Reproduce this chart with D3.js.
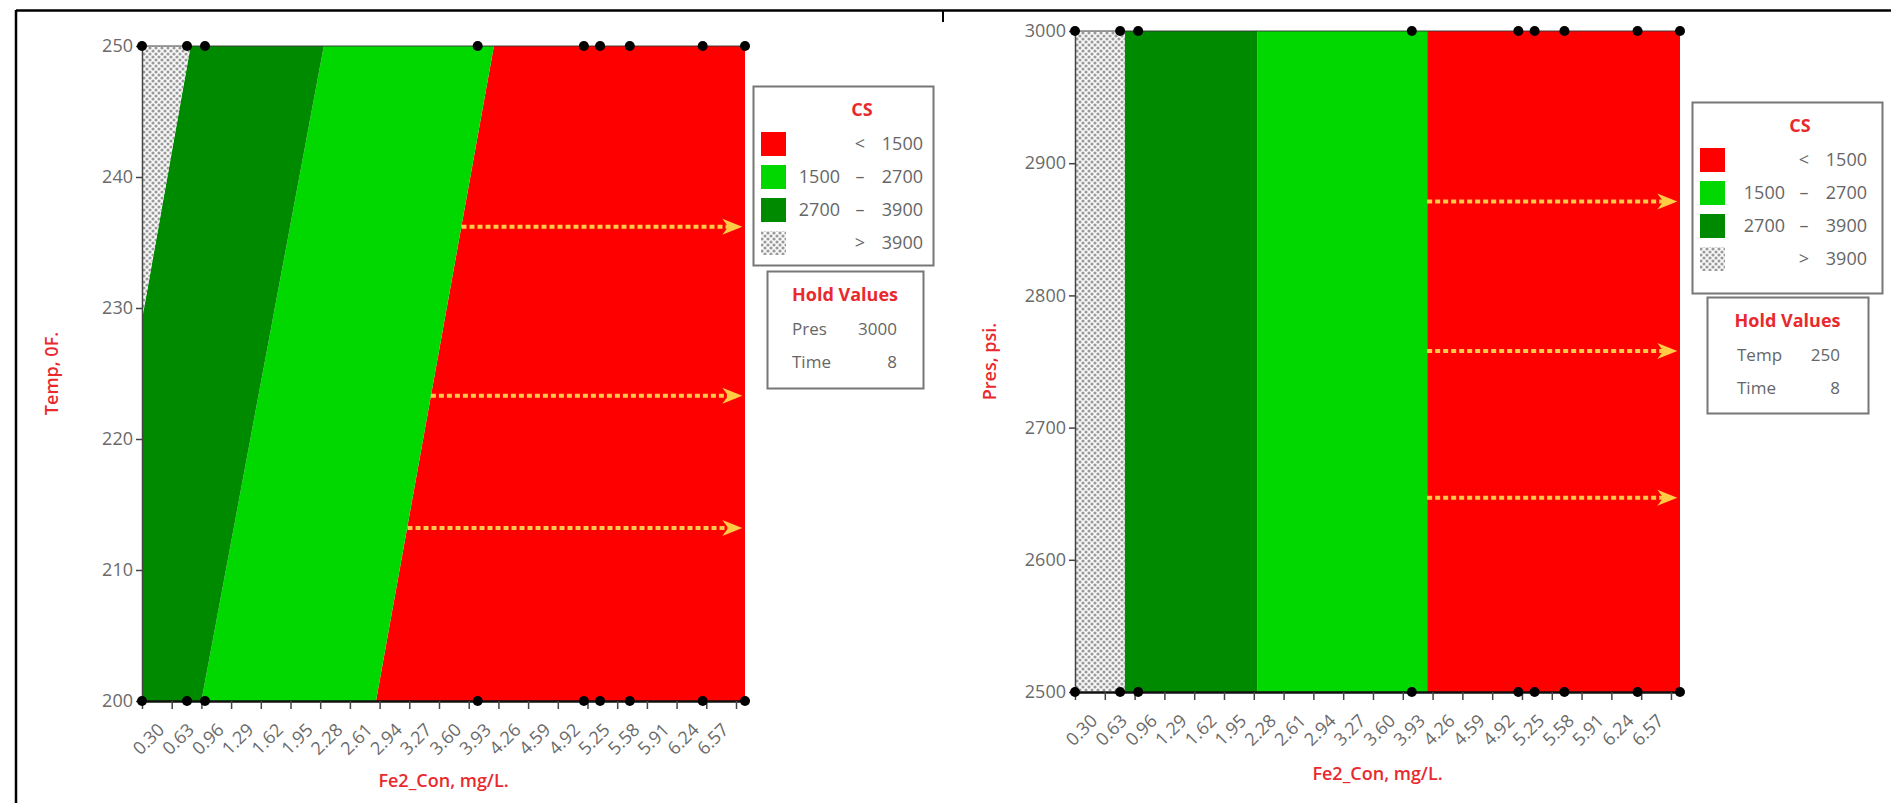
<!DOCTYPE html>
<html><head><meta charset="utf-8">
<script src="https://cdn.jsdelivr.net/npm/d3@7"></script>
<style>body{margin:0;background:#fff;} svg{display:block;font-family:"Open Sans",sans-serif;}</style>
</head><body><svg id="c" width="1891" height="803"></svg>
<script>
// ---------- data ----------
const feDomain = [0.30, 7.00];
const feTickValues = [0.30,0.63,0.96,1.29,1.62,1.95,2.28,2.61,2.94,3.27,3.60,3.93,4.26,4.59,4.92,5.25,5.58,5.91,6.24,6.57,6.90];
const feTickLabels = ["0.30","0.63","0.96","1.29","1.62","1.95","2.28","2.61","2.94","3.27","3.60","3.93","4.26","4.59","4.92","5.25","5.58","5.91","6.24","6.57",""];
const tempTicks = [200,210,220,230,240,250];
const presTicks = [2500,2600,2700,2800,2900,3000];
const designFe = [0.30,0.80,1.00,4.03,5.21,5.39,5.72,6.53,7.00];
// left panel contour lines (Fe2_Con, Temp)
const contour3900 = [[0.84,250],[0.30,229.1]];
const contour2700 = [[2.32,250],[0.96,200]];
const contour1500 = [[4.21,250],[2.90,200]];
// right panel contour positions (Fe2_Con), vertical
const bandEdges = [0.85, 2.32, 4.20];
// legend
const legendLo  = ["", "1500", "2700", ""];
const legendSym = ["<", "\u2013", "\u2013", ">"];
const legendHi  = ["1500", "2700", "3900", "3900"];
const legendFill = ["#ff0000", "#00d800", "#008a00", "hatch"];
// arrows
const leftArrowTemp = [236.2, 223.3, 213.2];
const leftArrowFrom = [3.85, 3.51, 3.25];
const rightArrowPres = [2871, 2758, 2647];
const rightArrowFrom = [4.20, 4.20, 4.20];
const arrowTo = 6.97;
// hold values
const leftHoldNames = ["Pres","Time"], leftHoldVals = ["3000","8"];
const rightHoldNames = ["Temp","Time"], rightHoldVals = ["250","8"];

// ---------- drawing ----------
const svg = d3.select("#c");
const defs = svg.append("defs");
const pat = defs.append("pattern").attr("id","hatch").attr("patternUnits","userSpaceOnUse")
  .attr("width",6).attr("height",6);
pat.append("rect").attr("width",6).attr("height",6).attr("fill","#fafafa");
[[0,0],[6,0],[0,6],[6,6],[3,3]].forEach(([cx,cy])=>
  pat.append("circle").attr("cx",cx).attr("cy",cy).attr("r",1.6).attr("fill","#9a9a9a"));
const RED="#ff0000", LG="#00d800", DG="#008a00";
const fillOf = f => f==="hatch" ? "url(#hatch)" : f;

// frame
svg.append("line").attr("x1",16).attr("x2",1891).attr("y1",10.5).attr("y2",10.5).attr("stroke","#000").attr("stroke-width",2.5);
svg.append("line").attr("x1",16).attr("x2",16).attr("y1",10).attr("y2",803).attr("stroke","#000").attr("stroke-width",2.5);
svg.append("line").attr("x1",943).attr("x2",943).attr("y1",10).attr("y2",22).attr("stroke","#000").attr("stroke-width",2);

function panel(cfg){
  const x = d3.scaleLinear().domain(feDomain).range(cfg.xr);
  const y = d3.scaleLinear().domain(cfg.yd).range(cfg.yr);
  const g = svg.append("g");
  const line = d3.line().x(d=>x(d[0])).y(d=>y(d[1]));
  cfg.polys.forEach(p => g.append("path").attr("d", line(p.pts)+"Z").attr("fill", fillOf(p.fill)));

  // top edge line
  g.append("line").attr("x1",cfg.xr[0]).attr("x2",cfg.xr[1]).attr("y1",y(cfg.yd[1])).attr("y2",y(cfg.yd[1]))
    .attr("stroke","#333").attr("stroke-width",1.5).attr("opacity",0.6);

  // arrows
  cfg.arrows.forEach(a=>{
    const yy = y(a.v);
    g.append("line").attr("x1",x(a.from)).attr("x2",x(arrowTo)-14).attr("y1",yy).attr("y2",yy)
      .attr("stroke","#ffc84a").attr("stroke-width",4).attr("stroke-dasharray","5,3");
    const xe = x(arrowTo);
    g.append("path").attr("d",`M${xe-20},${yy-8}L${xe},${yy}L${xe-20},${yy+8}L${xe-14},${yy}Z`).attr("fill","#ffcc44");
  });

  // y axis
  const ya = g.append("g").attr("transform",`translate(${cfg.xr[0]},0)`)
    .call(d3.axisLeft(y).tickValues(cfg.yticks).tickFormat(d3.format("d")).tickSize(6).tickSizeOuter(0));
  ya.select(".domain").attr("stroke","#444").attr("stroke-width",1.5);
  ya.selectAll(".tick line").attr("stroke","#444").attr("stroke-width",1.5);
  ya.selectAll("text").attr("font-size",18).attr("fill","#6a6a6a").attr("font-family","Open Sans").attr("x",-9);

  // x axis
  const xa = g.append("g").attr("transform",`translate(0,${cfg.yr[0]})`)
    .call(d3.axisBottom(x).tickValues(feTickValues).tickFormat((d,i)=>feTickLabels[i]).tickSize(8).tickSizeOuter(0));
  xa.select(".domain").attr("stroke","#111").attr("stroke-width",2.5);
  xa.selectAll(".tick line").attr("stroke","#444").attr("stroke-width",1.5);
  xa.selectAll("text").attr("font-size",18).attr("fill","#6a6a6a").attr("font-family","Open Sans")
    .attr("x",0).attr("y",0).attr("dy","0.35em").attr("text-anchor","middle")
    .attr("transform","translate(6,38) rotate(-45)");

  // design points
  [cfg.yd[0], cfg.yd[1]].forEach(v=>{
    g.selectAll(null).data(designFe).enter().append("circle")
      .attr("cx",d=>x(d)).attr("cy",y(v)).attr("r",5).attr("fill","#000");
  });

  // titles
  g.append("text").attr("x",(cfg.xr[0]+cfg.xr[1])/2).attr("y",cfg.xTitleY).attr("text-anchor","middle")
    .attr("font-size",18).attr("font-weight",600).attr("fill","#e8292e").text("Fe2_Con, mg/L.");
  g.append("text").attr("transform",`translate(${cfg.yTitleX},${(cfg.yr[0]+cfg.yr[1])/2}) rotate(-90)`)
    .attr("text-anchor","middle").attr("dy","0.35em")
    .attr("font-size",18).attr("font-weight",600).attr("fill","#e8292e").text(cfg.yTitle);

  // legend
  const L = cfg.leg;
  const lg = svg.append("g").attr("transform",`translate(${L.x},${L.y})`);
  lg.append("rect").attr("x",0.5).attr("y",0.5).attr("width",L.w).attr("height",L.h)
    .attr("fill","#fff").attr("stroke","#777").attr("stroke-width",2);
  lg.append("text").attr("x",L.csX).attr("y",24).attr("text-anchor","middle").attr("dy","0.35em")
    .attr("font-size",18).attr("font-weight",700).attr("fill","#e8292e").text("CS");
  legendFill.forEach((f,i)=>{
    const cy = 58 + i*33;
    lg.append("rect").attr("x",8).attr("y",cy-12).attr("width",25).attr("height",24).attr("fill",fillOf(f));
    const t = (xx,anchor,s)=>lg.append("text").attr("x",xx).attr("y",cy).attr("dy","0.35em")
      .attr("text-anchor",anchor).attr("font-size",18).attr("fill","#666").text(s);
    t(L.loX,"end",legendLo[i]); t(L.symX,"middle",legendSym[i]); t(L.hiX,"end",legendHi[i]);
  });
  const H = cfg.hold;
  const hg = svg.append("g").attr("transform",`translate(${H.x},${H.y})`);
  hg.append("rect").attr("x",0.5).attr("y",0.5).attr("width",H.w).attr("height",H.h)
    .attr("fill","#fff").attr("stroke","#777").attr("stroke-width",2);
  hg.append("text").attr("x",H.w/2).attr("y",24).attr("text-anchor","middle").attr("dy","0.35em")
    .attr("font-size",18).attr("font-weight",700).attr("fill","#e8292e").text("Hold Values");
  H.names.forEach((n,i)=>{
    const cy = 58 + i*33;
    hg.append("text").attr("x",H.nameX).attr("y",cy).attr("dy","0.35em").attr("font-size",17).attr("fill","#666").text(n);
    hg.append("text").attr("x",H.valX).attr("y",cy).attr("dy","0.35em").attr("text-anchor","end").attr("font-size",17).attr("fill","#666").text(H.vals[i]);
  });
}

const xMax = feDomain[1], xMin = feDomain[0];
panel({
  xr:[142,745], yr:[701,46], yd:[200,250], yticks:tempTicks,
  polys:[
    {fill:RED, pts:[contour1500[0],[xMax,250],[xMax,200],contour1500[1]]},
    {fill:LG,  pts:[contour2700[0],contour1500[0],contour1500[1],contour2700[1]]},
    {fill:DG,  pts:[contour3900[0],contour2700[0],contour2700[1],[xMin,200],contour3900[1]]},
    {fill:"hatch", pts:[[xMin,250],contour3900[0],contour3900[1]]}
  ],
  arrows: leftArrowTemp.map((v,i)=>({v, from:leftArrowFrom[i]})),
  xTitleY:787, yTitleX:52, yTitle:"Temp, 0F.",
  leg:{x:753,y:86,w:180,h:179,csX:109,loX:87,symX:107,hiX:170},
  hold:{x:767,y:271,w:156,h:117,nameX:25,valX:130,names:leftHoldNames,vals:leftHoldVals}
});
panel({
  xr:[1075,1680], yr:[692,31], yd:[2500,3000], yticks:presTicks,
  polys:[
    {fill:RED, pts:[[bandEdges[2],3000],[xMax,3000],[xMax,2500],[bandEdges[2],2500]]},
    {fill:LG,  pts:[[bandEdges[1],3000],[bandEdges[2],3000],[bandEdges[2],2500],[bandEdges[1],2500]]},
    {fill:DG,  pts:[[bandEdges[0],3000],[bandEdges[1],3000],[bandEdges[1],2500],[bandEdges[0],2500]]},
    {fill:"hatch", pts:[[xMin,3000],[bandEdges[0],3000],[bandEdges[0],2500],[xMin,2500]]}
  ],
  arrows: rightArrowPres.map((v,i)=>({v, from:rightArrowFrom[i]})),
  xTitleY:780, yTitleX:990, yTitle:"Pres, psi.",
  leg:{x:1692,y:102,w:190,h:191,csX:108,loX:93,symX:112,hiX:175},
  hold:{x:1707,y:297,w:161,h:116,nameX:30,valX:133,names:rightHoldNames,vals:rightHoldVals}
});
</script></body></html>
